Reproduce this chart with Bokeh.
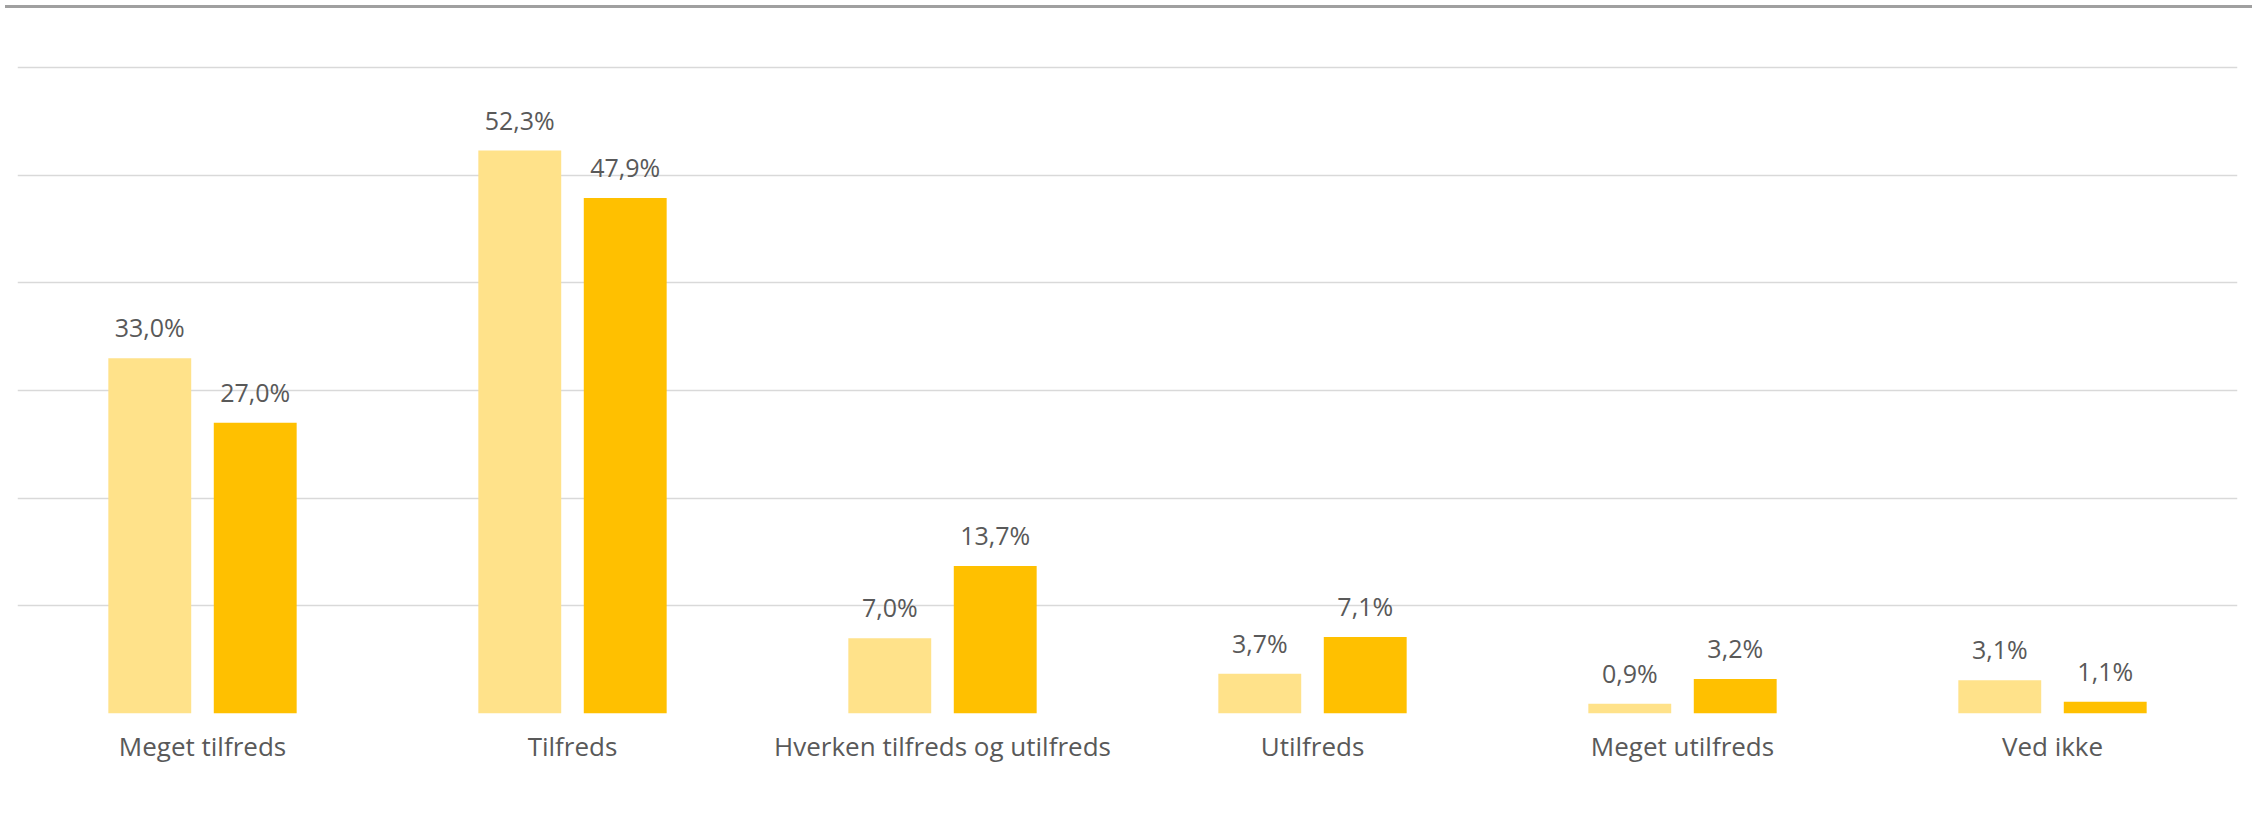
from bokeh.plotting import figure
from bokeh.models import (ColumnDataSource, FactorRange, Range1d, Legend, LegendItem,
                          Div, FixedTicker)
from bokeh.layouts import column
from bokeh.transform import dodge
from bokeh.core.properties import value
from bokeh.embed import file_html
from bokeh.resources import INLINE

categories = ["Meget tilfreds", "Tilfreds", "Hverken tilfreds og utilfreds",
              "Utilfreds", "Meget utilfreds", "Ved ikke"]
series_names = ["2020", "2023"]
values_2020 = [33.0, 52.3, 7.0, 3.7, 0.9, 3.1]
values_2023 = [27.0, 47.9, 13.7, 7.1, 3.2, 1.1]
grid_ticks = [0, 10, 20, 30, 40, 50, 60]

color_2020 = "#FFE28A"
color_2023 = "#FFC000"
text_color = "#595959"
FONT = "Open Sans"


def fmt(v):
    return f"{v:.1f}".replace(".", ",") + "%"


src = ColumnDataSource(dict(
    cat=categories,
    v2020=values_2020,
    v2023=values_2023,
    l2020=[fmt(v) for v in values_2020],
    l2023=[fmt(v) for v in values_2023],
))

p = figure(width=2252, height=803, x_range=FactorRange(*categories, range_padding=0),
           y_range=Range1d(0, 60.2), output_backend="svg", toolbar_location=None,
           min_border_left=17, min_border_right=15, min_border_top=52, min_border_bottom=103)
p.outline_line_color = None
p.background_fill_color = "white"
p.border_fill_color = "white"

w = 0.224
off = 0.1425
r1 = p.vbar(x=dodge("cat", -off, range=p.x_range), top="v2020", width=w, source=src,
            fill_color=color_2020, line_color=None)
r2 = p.vbar(x=dodge("cat", off, range=p.x_range), top="v2023", width=w, source=src,
            fill_color=color_2023, line_color=None)

p.text(x=dodge("cat", -off, range=p.x_range), y="v2020", text="l2020", source=src,
       text_align="center", text_baseline="alphabetic", y_offset=-31,
       text_font=value(FONT), text_font_size="25px", text_color=text_color)
p.text(x=dodge("cat", off, range=p.x_range), y="v2023", text="l2023", source=src,
       text_align="center", text_baseline="alphabetic", y_offset=-31,
       text_font=value(FONT), text_font_size="25px", text_color=text_color)

p.xgrid.visible = False
p.ygrid.ticker = FixedTicker(ticks=grid_ticks)
p.ygrid.grid_line_color = "#D9D9D9"
p.ygrid.grid_line_width = 1.6
p.yaxis.visible = False

p.xaxis.axis_line_color = None
p.xaxis.major_tick_line_color = None
p.xaxis.minor_tick_line_color = None
p.xaxis.major_label_text_font = FONT
p.xaxis.major_label_text_font_size = "26px"
p.xaxis.major_label_text_color = text_color
p.xaxis.major_label_standoff = 8

legend = Legend(items=[LegendItem(label=series_names[0], renderers=[r1]),
                       LegendItem(label=series_names[1], renderers=[r2])],
                location=(1035, -101), orientation="horizontal",
                padding=0, margin=0, spacing=22, label_standoff=8,
                glyph_width=12, glyph_height=12, label_height=28,
                label_text_font=FONT, label_text_font_size="20px",
                label_text_color=text_color,
                border_line_alpha=0, background_fill_alpha=0)
p.add_layout(legend, "center")

top_line = Div(width=2252, height=3, styles={"background-color": "#A0A0A0"})
layout = column(top_line, p, spacing=0)

open("out.html", "w").write(file_html(layout, INLINE))
